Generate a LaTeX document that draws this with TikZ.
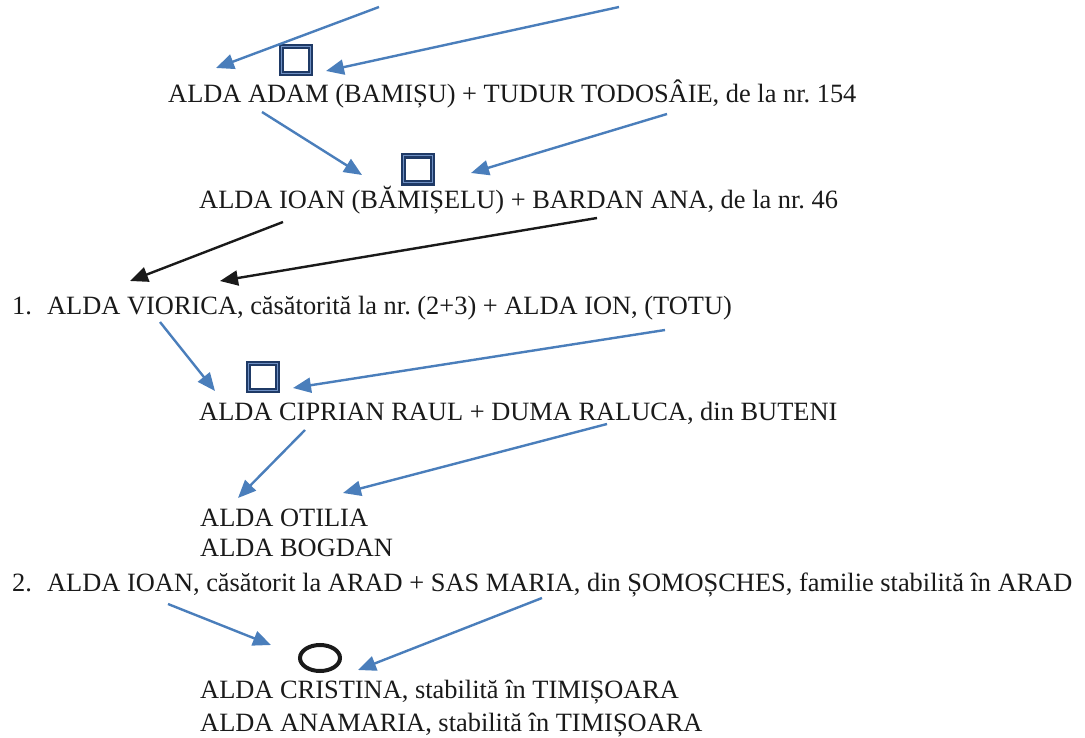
\documentclass[tikz,border=0pt]{standalone}
\usepackage{fontspec}
\setmainfont{Liberation Serif}
\usetikzlibrary{arrows.meta,shapes.geometric}
\definecolor{arrowblue}{HTML}{4A7EBB}
\definecolor{navy}{HTML}{1F3A66}
\definecolor{lightnavy}{HTML}{6F90C4}
\definecolor{ink}{HTML}{1A1A1A}
\frenchspacing
\begin{document}
\begin{tikzpicture}[x=1pt,y=-1pt,
  line/.style={anchor=base west,inner sep=0pt,font=\fontsize{26.4}{30}\selectfont,text=ink},
  bluearrow/.style={draw=arrowblue,line width=2.4pt,-{Triangle[length=18pt,width=15pt]}},
  blackarrow/.style={draw=ink,line width=2.4pt,-{Triangle[length=18pt,width=15pt]}},
  marriage/.style={draw=navy,line width=5.5pt,fill=white,minimum width=29pt,minimum height=27pt,inner sep=0pt,
    postaction={draw=lightnavy,line width=1pt}},
  union/.style={draw=ink,ellipse,line width=4pt,minimum width=40pt,minimum height=26pt,inner sep=0pt}]
\useasboundingbox (0,0) rectangle (1085,738);
\fill[white] (0,0) rectangle (1085,738);

% text lines
\node[line] (l1) at (168,102.5) {ALDA ADAM (BAMIȘU) + TUDUR TODOSÂIE, de la nr. 154};
\node[line] (l2) at (199,208.5) {ALDA IOAN (BĂMIȘELU) + BARDAN ANA, de la nr. 46};
\node[line] (l3) at (12,315) {\makebox[35pt][l]{1.}ALDA VIORICA, căsătorită la nr. (2+3) + ALDA ION, (TOTU)};
\node[line] (l4) at (199,420) {ALDA CIPRIAN RAUL + DUMA RALUCA, din BUTENI};
\node[line] (l5) at (200,526.7) {ALDA OTILIA};
\node[line] (l6) at (200,556.7) {ALDA BOGDAN};
\node[line] (l7) at (12,591) {\makebox[35pt][l]{2.}ALDA IOAN, căsătorit la ARAD + SAS MARIA, din ȘOMOȘCHES, familie stabilită în ARAD};
\node[line] (l8) at (200,698.3) {ALDA CRISTINA, stabilită în TIMIȘOARA};
\node[line] (l9) at (200,731.7) {ALDA ANAMARIA, stabilită în TIMIȘOARA};

% marriage markers
\node[marriage] (m1) at (296,60) {};
\node[marriage] (m2) at (418,169.5) {};
\node[marriage] (m3) at (263,377) {};
\node[union] (m4) at (320,658) {};

% arrow end points
\coordinate (a1s) at (379,7);   \coordinate (a1e) at (216,68);
\coordinate (a2s) at (619,7);   \coordinate (a2e) at (326,71);
\coordinate (a3s) at (262,112); \coordinate (a3e) at (362,175);
\coordinate (a4s) at (667,114); \coordinate (a4e) at (471,173);
\coordinate (a5s) at (283,222); \coordinate (a5e) at (130,281);
\coordinate (a6s) at (597,218); \coordinate (a6e) at (220,281);
\coordinate (a7s) at (160,322); \coordinate (a7e) at (215,391);
\coordinate (a8s) at (665,330); \coordinate (a8e) at (293,388);
\coordinate (a9s) at (305,430); \coordinate (a9e) at (238,498);
\coordinate (a10s) at (607,424); \coordinate (a10e) at (343,493);
\coordinate (a11s) at (168,604); \coordinate (a11e) at (271,645);
\coordinate (a12s) at (542,598); \coordinate (a12e) at (358,670);

\draw[bluearrow] (a1s) -- (a1e);
\draw[bluearrow] (a2s) -- (a2e);
\draw[bluearrow] (a3s) -- (a3e);
\draw[bluearrow] (a4s) -- (a4e);
\draw[blackarrow] (a5s) -- (a5e);
\draw[blackarrow] (a6s) -- (a6e);
\draw[bluearrow] (a7s) -- (a7e);
\draw[bluearrow] (a8s) -- (a8e);
\draw[bluearrow] (a9s) -- (a9e);
\draw[bluearrow] (a10s) -- (a10e);
\draw[bluearrow] (a11s) -- (a11e);
\draw[bluearrow] (a12s) -- (a12e);
\end{tikzpicture}
\end{document}
